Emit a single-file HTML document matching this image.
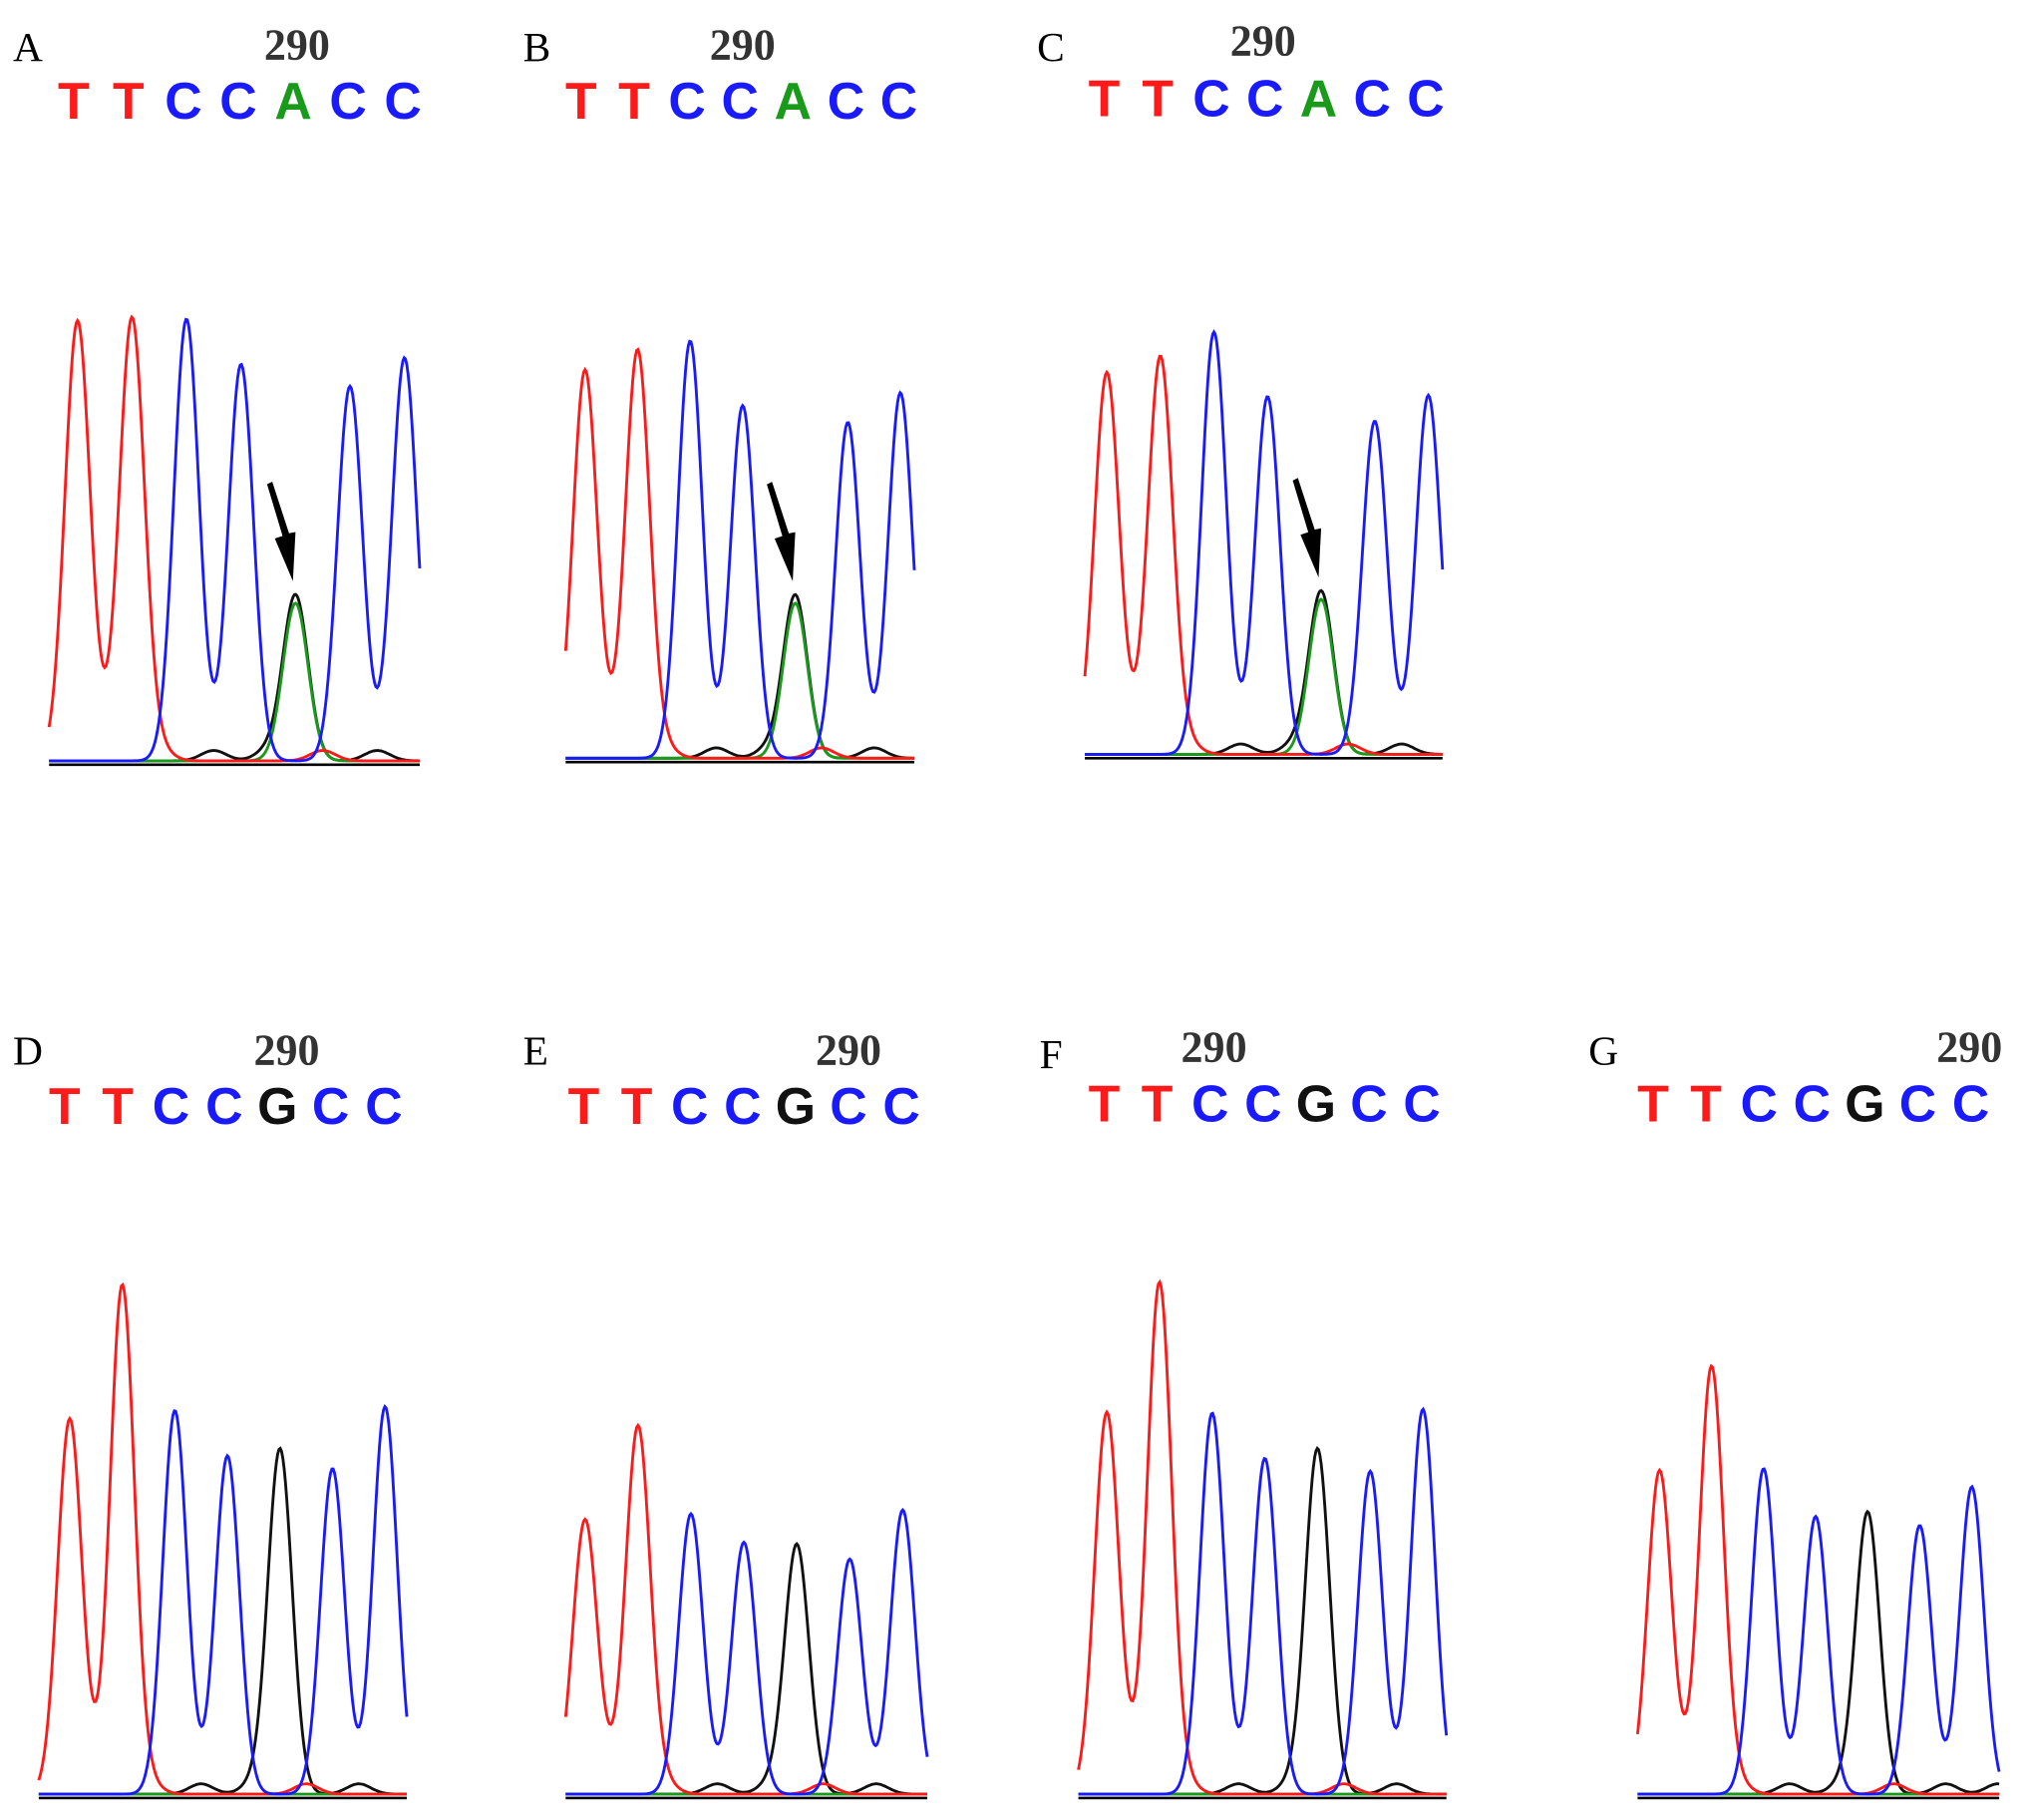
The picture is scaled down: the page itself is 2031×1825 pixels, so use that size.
<!DOCTYPE html>
<html><head><meta charset="utf-8"><style>
html,body{margin:0;padding:0;background:#fff;}
svg{display:block;}
</style></head><body>
<svg id="fig" width="2031" height="1825" viewBox="0 0 1568 1409" preserveAspectRatio="none" xmlns="http://www.w3.org/2000/svg"></svg>
<script>
// ---- data ----
const panelLabels = ["A","B","C","D","E","F","G"];
const bases = [
 ["T","T","C","C","A","C","C"],["T","T","C","C","A","C","C"],["T","T","C","C","A","C","C"],
 ["T","T","C","C","G","C","C"],["T","T","C","C","G","C","C"],["T","T","C","C","G","C","C"],["T","T","C","C","G","C","C"]
];
// peak intensities (pixels above baseline, display units)
const peakHeightsA = [340,342,342,307,122,290,312];
const peakHeightsB = [300,315,323,273,120,260,283];
const peakHeightsC = [295,307,327,277,120,258,278];
const peakHeightsD = [290,393,297,262,267,252,300];
const peakHeightsE = [212,284,217,195,193,182,220];
const peakHeightsF = [295,395,295,260,267,250,298];
const peakHeightsG = [250,330,252,215,218,208,238];
const peakHeights = [peakHeightsA,peakHeightsB,peakHeightsC,peakHeightsD,peakHeightsE,peakHeightsF,peakHeightsG];
// panel geometry (not data)
const geom = [
 {lx:10,ly:47,nx:230,ny:46,by:92,bx0:57,bdx:42.5,px0:60,pdx:42.2,base:590,x0:38,x1:325,arrow:true},
 {lx:405,ly:47,nx:575,ny:46,by:92,bx0:450,bdx:41,px0:453,pdx:40.7,base:588,x0:438,x1:708,arrow:true},
 {lx:803,ly:47,nx:978,ny:43,by:90,bx0:855,bdx:41.5,px0:857,pdx:41.5,base:585,x0:840,x1:1117,arrow:true},
 {lx:10,ly:824,nx:222,ny:824,by:870,bx0:50,bdx:41.2,px0:54,pdx:40.7,base:1390,x0:30,x1:315,arrow:false},
 {lx:405,ly:824,nx:657,ny:824,by:870,bx0:452,bdx:41,px0:453,pdx:41,base:1390,x0:438,x1:718,arrow:false},
 {lx:805,ly:827,nx:940,ny:822,by:868,bx0:855,bdx:41,px0:857,pdx:40.8,base:1390,x0:835,x1:1120,arrow:false},
 {lx:1230,ly:824,nx:1525,ny:822,by:868,bx0:1280,bdx:41,px0:1285,pdx:40.3,base:1390,x0:1268,x1:1548,arrow:false}
];
const colors = {T:"#ff1a1a",C:"#1a1aff",A:"#1a9a1a",G:"#111111"};
const NS="http://www.w3.org/2000/svg";
const svg=document.getElementById("fig");
function el(t,a,p){const e=document.createElementNS(NS,t);for(const k in a)e.setAttribute(k,a[k]);(p||svg).appendChild(e);return e;}
geom.forEach((g,i)=>{
  const grp=el("g",{});
  
  
  const lab=el("text",{x:g.lx,y:g.ly,"font-family":"Liberation Serif, serif","font-size":32,fill:"#000"},grp);
  lab.textContent=panelLabels[i];
  
  
  const num=el("text",{x:g.nx,y:g.ny,"text-anchor":"middle","font-family":"Liberation Serif, serif","font-size":34,"font-weight":"bold",fill:"#333"},grp);
  num.textContent="290";
  
  
  bases[i].forEach((b,j)=>{
    const t=el("text",{x:g.bx0+j*g.bdx,y:g.by,"text-anchor":"middle","font-family":"Liberation Sans, sans-serif","font-size":40,"font-weight":"bold",fill:colors[b]},grp);
    t.textContent=b;
    
    
  });
  const hs=peakHeights[i], sig=g.pdx*0.23;
  const ch={T:[],C:[],A:[],G:[]};
  bases[i].forEach((b,j)=>ch[b].push([g.px0+j*g.pdx,hs[j]]));
  bases[i].forEach((b,j)=>{const x=g.px0+j*g.pdx+g.pdx*0.5;const o=b==="C"?"G":"T";if(x<g.x1)ch[o].push([x,8]);});
  if(i<3){const j=4;ch.G.push([g.px0+j*g.pdx,hs[j]*1.05]);}
  ["G","A","T","C"].forEach(c=>{
    let d="";
    for(let x=g.x0;x<=g.x1;x+=1){
      let v=0;ch[c].forEach(([px,h])=>{v+=h*Math.exp(-((x-px)**2)/(2*sig*sig));});
      d+=(x===g.x0?"M":"L")+x+","+(g.base-v-1).toFixed(1);
    }
    const p=el("path",{d:d,fill:"none",stroke:colors[c],"stroke-width":2.2},grp);
    
    
  });
  const ax=el("line",{x1:g.x0,y1:g.base+2,x2:g.x1,y2:g.base+2,stroke:"#000","stroke-width":2},grp);
  
  
  if(g.arrow){
    const tx=g.px0+4*g.pdx-2, ty=g.base-hs[4]*1.05-12;
    const a=el("path",{d:`M${tx-20},${ty-75} L${tx-8},${ty-35} L${tx-14},${ty-33} L${tx},${ty} L${tx+2},${ty-38} L${tx-3},${ty-37} L${tx-16},${ty-77}Z`,fill:"#000"},grp);
    
    
  }
});
</script>
</body></html>
